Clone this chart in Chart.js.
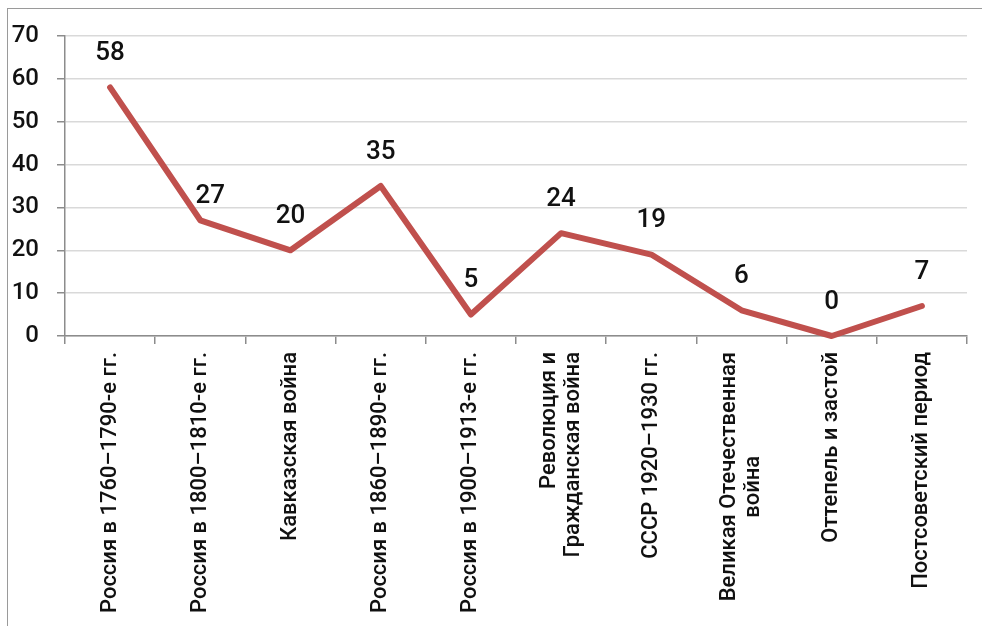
<!DOCTYPE html>
<html>
<head>
<meta charset="utf-8">
<script src="https://cdn.jsdelivr.net/npm/chart.js@4"></script>
<style>
  html, body { margin: 0; padding: 0; background: #fff; }
  #wrap { position: relative; width: 982px; height: 626px; overflow: hidden; }
  #frame { position: absolute; left: 7px; top: 8px; width: 1200px; height: 900px;
           border-left: 1.5px solid #9a9a9a; border-top: 1.5px solid #9a9a9a; }
  canvas { position: absolute; left: 0; top: 0; }
</style>
</head>
<body>
<div id="wrap">
  <div id="frame"></div>
  <canvas id="chart" width="982" height="626"></canvas>
</div>
<script>
const periods = [
  'Россия в 1760–1790-е гг.',
  'Россия в 1800–1810-е гг.',
  'Кавказская война',
  'Россия в 1860–1890-е гг.',
  'Россия в 1900–1913-е гг.',
  ['Революция и', 'Гражданская война'],
  'СССР 1920–1930 гг.',
  ['Великая Отечественная', 'война                   '],
  'Оттепель и застой',
  'Постсоветский период'
];
const values = [58, 27, 20, 35, 5, 24, 19, 6, 0, 7];
const yTicks = [0, 10, 20, 30, 40, 50, 60, 70];

const axisGray = '#8c8c8c';
const textColor = '#111';

// numbers above each point of the line
const valueLabels = {
  id: 'valueLabels',
  afterDatasetsDraw(chart, args, opts) {
    const ctx = chart.ctx;
    const meta = chart.getDatasetMeta(0);
    const nudge = opts.nudge || {};
    ctx.save();
    ctx.font = '500 26px Roboto';
    ctx.fillStyle = textColor;
    ctx.textAlign = 'center';
    ctx.textBaseline = 'middle';
    meta.data.forEach((pt, i) => {
      const [dx, dy] = nudge[i] || [0, 0];
      ctx.fillText(String(values[i]), pt.x + dx, pt.y - 34 + dy);
    });
    ctx.restore();
  }
};

// two-line category labels: centre the lines around the tick
const centerLines = {
  id: 'centerLines',
  beforeDraw(chart) {
    const sc = chart.scales.x;
    const items = sc.getLabelItems(chart.chartArea);
    items.forEach(it => {
      if (!it._centered && Array.isArray(it.label) && it.label.length > 1) {
        it.textOffset -= (it.label.length - 1) * it.font.lineHeight / 2;
        it._centered = true;
      }
    });
  }
};

new Chart(document.getElementById('chart'), {
  type: 'line',
  data: {
    labels: periods,
    datasets: [{
      data: values,
      borderColor: '#C0504D',
      borderWidth: 6,
      borderCapStyle: 'round',
      borderJoinStyle: 'round',
      pointRadius: 0,
      tension: 0,
      fill: false,
      clip: false
    }]
  },
  options: {
    responsive: false,
    animation: false,
    layout: { padding: { left: 0, top: 36, right: 15, bottom: 0 } },
    plugins: {
      legend: { display: false },
      tooltip: { enabled: false },
      valueLabels: { nudge: { 1: [10, 10] } }
    },
    scales: {
      x: {
        offset: true,
        grid: { offset: true, drawOnChartArea: false, tickColor: axisGray, tickLength: 8, lineWidth: 1.5 },
        border: { color: axisGray, width: 1.5 },
        ticks: {
          autoSkip: false, minRotation: 90, maxRotation: 90, padding: 8,
          font: { family: 'Roboto', size: 22, weight: '500', lineHeight: 1.1 }, color: textColor
        },
        afterFit(s) { s.height = 290; }
      },
      y: {
        min: 0,
        max: 70,
        afterBuildTicks(s) { s.ticks = yTicks.map(v => ({ value: v })); },
        grid: { color: '#d9d9d9', lineWidth: 1.5, tickColor: axisGray, tickLength: 8 },
        border: { color: axisGray, width: 1.5 },
        ticks: { padding: 18, font: { family: 'Roboto', size: 24, weight: '500' }, color: textColor },
        afterFit(s) { s.width = 65; }
      }
    }
  },
  plugins: [valueLabels, centerLines]
});
</script>
</body>
</html>
